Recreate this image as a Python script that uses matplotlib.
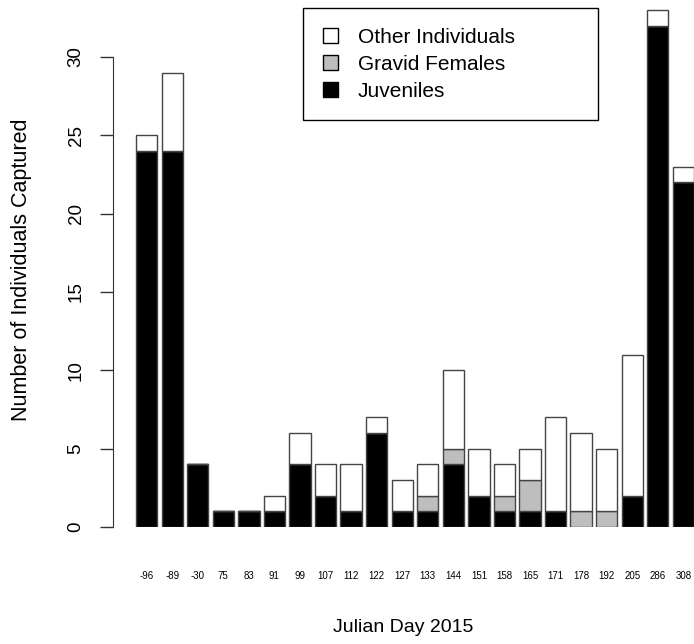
import matplotlib
matplotlib.use("Agg")
import matplotlib.pyplot as plt
from matplotlib.patches import Patch

plt.rcParams['font.family'] = ['Liberation Sans', 'DejaVu Sans']

# data
days = ['-96', '-89', '-30', '75', '83', '91', '99', '107', '112', '122', '127',
        '133', '144', '151', '158', '165', '171', '178', '192', '205', '286', '308']
juveniles = [24, 24, 4, 1, 1, 1, 4, 2, 1, 6, 1, 1, 4, 2, 1, 1, 1, 0, 0, 2, 32, 22]
gravid = [0, 0, 0, 0, 0, 0, 0, 0, 0, 0, 0, 1, 1, 0, 1, 2, 0, 1, 1, 0, 0, 0]
other = [1, 5, 0, 0, 0, 1, 2, 2, 3, 1, 2, 2, 5, 3, 2, 2, 6, 5, 4, 9, 1, 1]

x = [1.2 * i for i in range(len(days))]
bottom2 = juveniles
bottom3 = [j + g for j, g in zip(juveniles, gravid)]

W, H = 694, 644
fig = plt.figure(figsize=(W / 100, H / 100), dpi=100)
ax = fig.add_axes([113 / W, 117 / H, 581 / W, 527 / H])

ec = '#444444'
ax.bar(x, juveniles, width=1, color='black', edgecolor=ec, linewidth=1)
ax.bar(x, gravid, width=1, bottom=bottom2, color='#bebebe', edgecolor=ec, linewidth=1)
ax.bar(x, other, width=1, bottom=bottom3, color='white', edgecolor=ec, linewidth=1)

ax.set_xlim(-1.58, 25.7)
ax.set_ylim(0, 33.63)

for s in ['top', 'right', 'bottom']:
    ax.spines[s].set_visible(False)
ax.spines['left'].set_bounds(0, 30)
ax.spines['left'].set_color('#333333')

ax.set_yticks([0, 5, 10, 15, 20, 25, 30])
ax.tick_params(axis='y', labelsize=13.5, length=9.4, width=1, color='#333333', pad=11,
               labelrotation=90)
for lab in ax.get_yticklabels():
    lab.set_verticalalignment('center')

ax.set_xticks(x)
ax.set_xticklabels(days, fontsize=7)
ax.tick_params(axis='x', length=0, pad=32)

fig.text(22 / W, 1 - 270 / H, 'Number of Individuals Captured', rotation=90,
         ha='center', va='center', fontsize=15.5)
fig.text(403 / W, 1 - 627 / H, 'Julian Day 2015', ha='center', va='center',
         fontsize=14)

handles = [Patch(facecolor='white', edgecolor='black'),
           Patch(facecolor='#bebebe', edgecolor='black'),
           Patch(facecolor='black', edgecolor='black')]
leg = fig.legend(handles, ['Other Individuals', 'Gravid Females', 'Juveniles'],
                 loc='upper left', bbox_to_anchor=(303 / W, 1 - 117 / H, 295 / W, 109 / H),
                 mode='expand', fontsize=15, handlelength=0.72, handleheight=0.72,
                 borderpad=0.95, labelspacing=0.38, handletextpad=0.95,
                 fancybox=False, framealpha=1, edgecolor='black', borderaxespad=0)
leg.get_frame().set_linewidth(1)

fig.savefig('out.png', dpi=100)
